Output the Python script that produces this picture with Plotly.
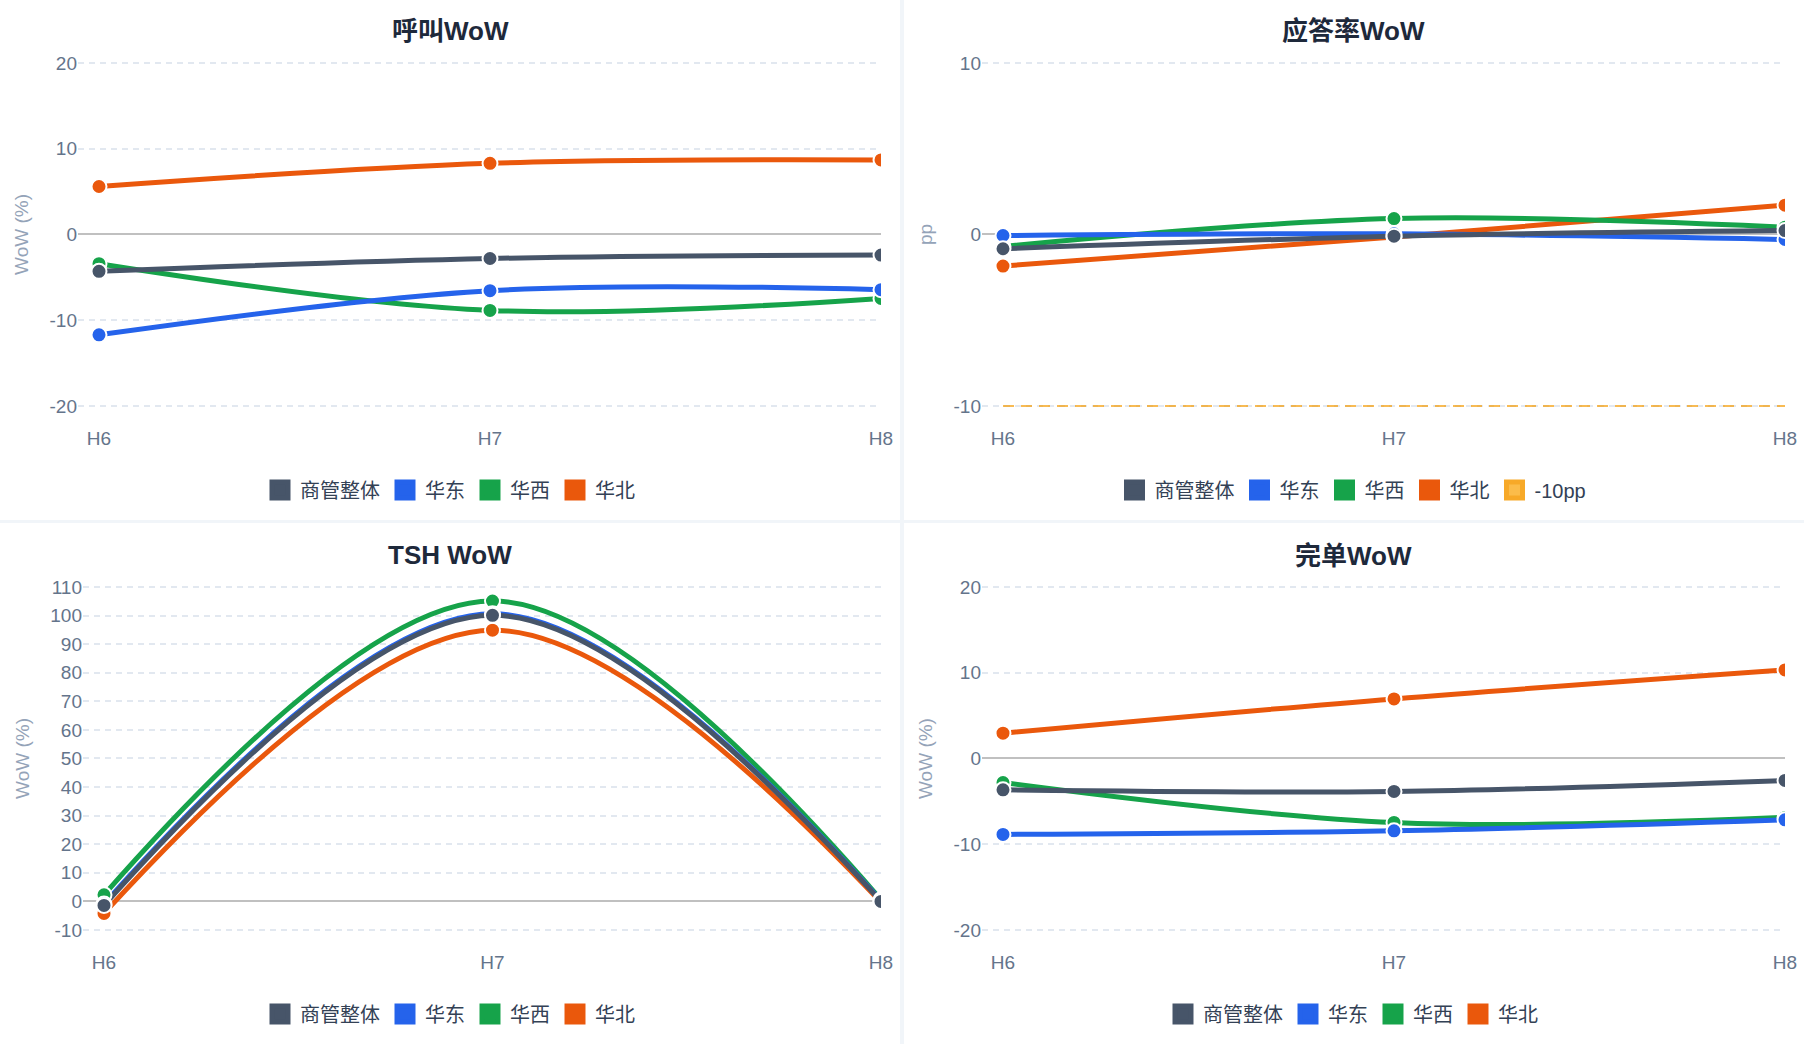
import plotly.graph_objects as go

W, H = 1804, 1044

hours = ["H6", "H7", "H8"]
regions = ["商管整体", "华东", "华西", "华北"]
colors = {"商管整体": "#475569", "华东": "#2563eb", "华西": "#16a34a", "华北": "#ea580c"}

# 呼叫WoW (%)
call_wow = {
    "商管整体": [-4.3, -2.8, -2.4],
    "华东": [-11.7, -6.55, -6.43],
    "华西": [-3.4, -8.85, -7.45],
    "华北": [5.6, 8.3, 8.7],
}
call_ticks = [-20, -10, 0, 10, 20]
call_ticktext = ["-20", "-10", "0", "10", "20"]

# 应答率WoW (pp)
answer_wow = {
    "商管整体": [-0.83, -0.1, 0.23],
    "华东": [-0.06, 0.04, -0.29],
    "华西": [-0.7, 0.93, 0.43],
    "华北": [-1.84, -0.14, 1.71],
}
answer_threshold = [-10, -10, -10]
answer_ticks = [-10, 0, 10]
answer_ticktext = ["-10", "0", "10"]

# TSH WoW (%)
tsh_wow = {
    "商管整体": [-1.4, 100.1, 0.0],
    "华东": [-0.9, 100.6, 0.2],
    "华西": [2.3, 105.1, 0.6],
    "华北": [-4.2, 94.9, -0.3],
}
tsh_ticks = [-10, 0, 10, 20, 30, 40, 50, 60, 70, 80, 90, 100, 110]
tsh_ticktext = ["-10", "0", "10", "20", "30", "40", "50", "60", "70", "80", "90", "100", "110"]

# 完单WoW (%)
finish_wow = {
    "商管整体": [-3.65, -3.84, -2.56],
    "华东": [-8.85, -8.43, -7.15],
    "华西": [-2.8, -7.46, -6.87],
    "华北": [2.95, 6.95, 10.33],
}
finish_ticks = [-20, -10, 0, 10, 20]
finish_ticktext = ["-20", "-10", "0", "10", "20"]

FONT = "Liberation Sans, Arial, Noto Sans CJK SC, sans-serif"
TICK_COLOR = "#64748b"
GRID_COLOR = "#e2e8f0"

# panel geometry in pixels
panels = [
    dict(data=call_wow, title="呼叫WoW", ytitle="WoW (%)", yr=[-20, 20],
         tv=call_ticks, tt=call_ticktext,
         left=78, h6=99, right=881, top=63, bottom=406, cx=450, ty=31, ly=490),
    dict(data=answer_wow, title="应答率WoW", ytitle="pp", yr=[-10, 10],
         tv=answer_ticks, tt=answer_ticktext,
         left=982, h6=1003, right=1785, top=63, bottom=406, cx=1353, ty=31, ly=490),
    dict(data=tsh_wow, title="TSH WoW", ytitle="WoW (%)", yr=[-10, 110],
         tv=tsh_ticks, tt=tsh_ticktext,
         left=83, h6=104, right=881, top=587, bottom=930, cx=450, ty=555, ly=1014),
    dict(data=finish_wow, title="完单WoW", ytitle="WoW (%)", yr=[-20, 20],
         tv=finish_ticks, tt=finish_ticktext,
         left=982, h6=1003, right=1785, top=587, bottom=930, cx=1353, ty=556, ly=1014),
]

draw_order = ["华北", "华西", "华东", "商管整体"]

fig = go.Figure()
annotations = []
layout = {}

for i, p in enumerate(panels):
    n = "" if i == 0 else str(i + 1)
    xa, ya = "x" + n, "y" + n
    leg = "legend" + n

    # lines first, markers on top (like echarts)
    for r in draw_order:
        fig.add_trace(go.Scatter(
            x=hours, y=p["data"][r], mode="lines", name=r,
            line=dict(color=colors[r], width=5, shape="spline", smoothing=1),
            xaxis=xa, yaxis=ya, showlegend=False, legendgroup=r + n,
        ))
    if i == 1:
        fig.add_trace(go.Scatter(
            x=hours, y=answer_threshold, mode="lines", name="-10pp",
            line=dict(color="rgba(245,158,11,0.7)", width=2, dash="11px,7px"),
            xaxis=xa, yaxis=ya, showlegend=False, legendgroup="thr",
        ))
    for r in draw_order:
        fig.add_trace(go.Scatter(
            x=hours, y=p["data"][r], mode="markers", name=r,
            marker=dict(color=colors[r], size=15, line=dict(color="white", width=2)),
            xaxis=xa, yaxis=ya, showlegend=False, legendgroup=r + n,
        ))

    # legend entries
    for r in regions:
        fig.add_trace(go.Scatter(
            x=[None], y=[None], mode="markers", name=r,
            marker=dict(symbol="square", size=16, color=colors[r],
                        line=dict(color=colors[r], width=5)),
            xaxis=xa, yaxis=ya, legend=leg, legendgroup=r + n,
        ))
    if i == 1:
        fig.add_trace(go.Scatter(
            x=[None], y=[None], mode="markers", name="-10pp",
            marker=dict(symbol="square", size=16, color="#fbbc4a",
                        line=dict(color="#f7a928", width=5)),
            xaxis=xa, yaxis=ya, legend=leg, legendgroup="thr",
        ))

    unit = (p["right"] - p["h6"]) / 2.0
    off = (p["h6"] - p["left"]) / unit
    span = p["yr"][1] - p["yr"][0]
    eps = span * 0.004
    pad_px = eps / span * (p["bottom"] - p["top"])
    layout["xaxis" + n] = dict(
        domain=[p["left"] / W, p["right"] / W], anchor=ya,
        type="category", categoryorder="array", categoryarray=hours,
        range=[-off, 2], showgrid=False, zeroline=False, showline=False,
        ticks="", ticklabelstandoff=18, automargin=False,
        tickfont=dict(size=19, color=TICK_COLOR, family=FONT),
        fixedrange=True,
    )
    layout["yaxis" + n] = dict(
        domain=[1 - (p["bottom"] + pad_px) / H, 1 - (p["top"] - pad_px) / H], anchor=xa,
        range=[p["yr"][0] - eps, p["yr"][1] + eps],
        tickmode="array", tickvals=p["tv"], ticktext=p["tt"],
        showgrid=True, gridcolor=GRID_COLOR, gridwidth=2, griddash="6px,5px",
        zeroline=True, zerolinecolor="#c0c0c0", zerolinewidth=2,
        showline=False, ticks="", automargin=False,
        tickfont=dict(size=19, color=TICK_COLOR, family=FONT),
        title=dict(text=p["ytitle"], standoff=15,
                   font=dict(size=19, color="#94a3b8", family=FONT)),
        fixedrange=True,
    )
    layout[leg] = dict(
        orientation="h", x=p["cx"] / W, xanchor="center",
        y=1 - p["ly"] / H, yanchor="middle",
        font=dict(size=20, color="#334155", family=FONT),
        bgcolor="rgba(0,0,0,0)", itemclick=False, itemdoubleclick=False,
    )
    annotations.append(dict(
        text="<b>" + p["title"] + "</b>", xref="paper", yref="paper",
        x=p["cx"] / W, y=1 - p["ty"] / H, xanchor="center", yanchor="middle",
        showarrow=False, font=dict(size=26, color="#1e293b", family=FONT),
    ))

# light separators between the four cards
shapes = [
    dict(type="rect", xref="paper", yref="paper", x0=900 / W, x1=904 / W, y0=0, y1=1,
         fillcolor="#f1f5f9", line=dict(width=0), layer="below"),
    dict(type="rect", xref="paper", yref="paper", x0=0, x1=1, y0=1 - 523 / H, y1=1 - 520 / H,
         fillcolor="#f1f5f9", line=dict(width=0), layer="below"),
]

fig.update_layout(
    width=W, height=H, autosize=False,
    margin=dict(l=0, r=0, t=0, b=0, autoexpand=False),
    paper_bgcolor="white", plot_bgcolor="rgba(0,0,0,0)",
    font=dict(family=FONT),
    annotations=annotations, shapes=shapes,
    hovermode=False,
    **layout,
)

fig.write_html("out.html", config={"displayModeBar": False},
               post_script="document.body.style.margin='0';")
